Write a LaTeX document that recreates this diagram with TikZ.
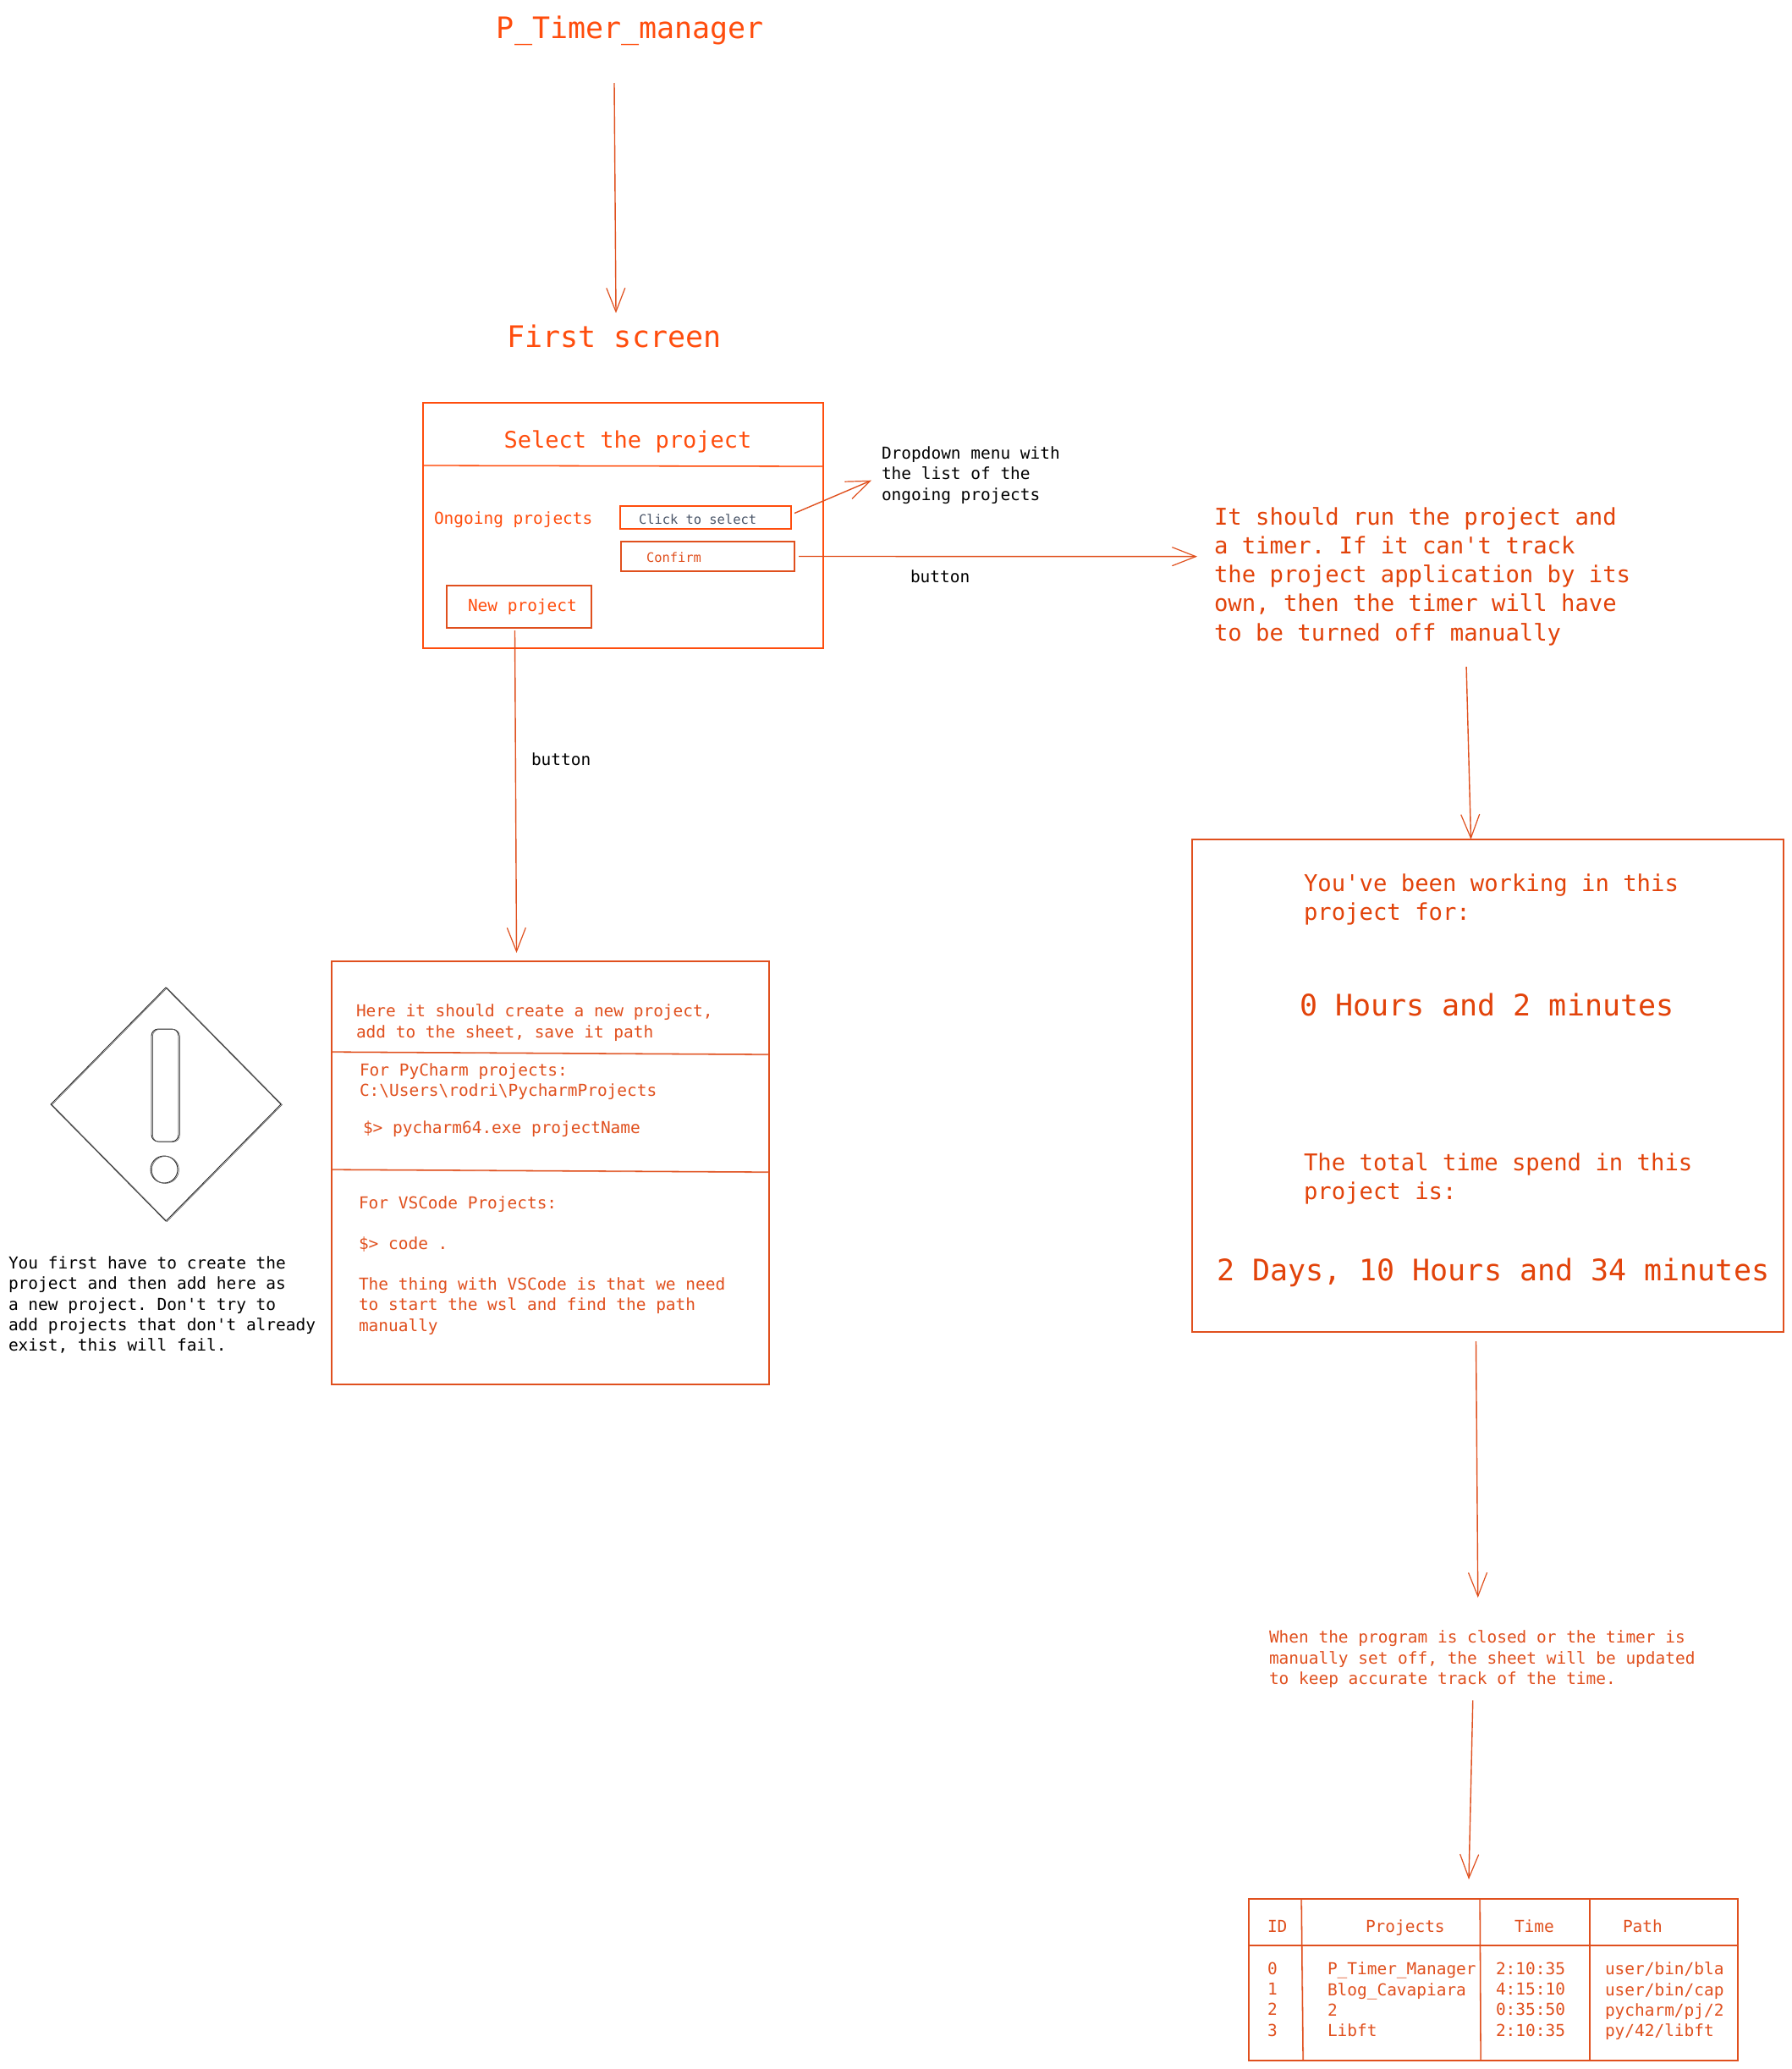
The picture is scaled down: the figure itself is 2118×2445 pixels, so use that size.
\documentclass[tikz,border=0pt]{standalone}
\usepackage{fontspec}
\setmonofont{DejaVu Sans Mono}
\usetikzlibrary{arrows.meta}
\definecolor{cA}{HTML}{FF4D0D}
\definecolor{cB}{HTML}{E0501E}
\definecolor{cC}{HTML}{E2430A}
\definecolor{cG}{HTML}{4A5568}
\tikzset{
  every node/.style={inner sep=0pt,outer sep=0pt,font=\ttfamily},
  skA/.style={draw=cA,line width=1.3pt,postaction={draw=cA,line width=.9pt,opacity=.55,transform canvas={xshift=.7pt,yshift=-.7pt}}},
  skB/.style={draw=cB,line width=1.3pt,postaction={draw=cB,line width=.9pt,opacity=.55,transform canvas={xshift=.7pt,yshift=-.7pt}}},
  skK/.style={draw=black!85,line width=.9pt,postaction={draw=black!60,line width=.7pt,transform canvas={xshift=1.4pt,yshift=-.4pt}}},
  arr/.style={draw=cB,line width=1.4pt,-{Straight Barb[length=28pt,width=22pt,line width=1.2pt]}},
  boxn/.style={rectangle,anchor=center},
  ts35/.style={font=\ttfamily\fontsize{35}{42}\selectfont},
  ts27/.style={font=\ttfamily\fontsize{27.25}{34.2}\selectfont,align=left,anchor=north west,yshift=-4.5pt},
  ts19/.style={font=\ttfamily\fontsize{19.45}{24.2}\selectfont,align=left,anchor=north west,yshift=-3pt},
  ts15/.style={font=\ttfamily\fontsize{15.4}{19}\selectfont},
}
\begin{document}
\begin{tikzpicture}[x=1pt,y=-1pt]
\useasboundingbox[fill=white] (0,0) rectangle (2118,2445);

% titles
\node[ts35,text=cA] (title) at (745,36) {P\_Timer\_manager};
\node[ts35,text=cA] (first) at (726,397) {First screen};

% first screen box
\node[boxn,skA,minimum width=473pt,minimum height=290pt] (box1) at (736.5,621) {};
\draw[skA] (500,550) -- (973,551);
\node[text=cA,font=\ttfamily\fontsize{27}{32}\selectfont] (sel) at (742,522) {Select the project};
\node[ts19,text=cA] (ongoing) at (513,602) {Ongoing projects};
\node[boxn,skA,minimum width=202pt,minimum height=27pt] (click) at (834,611.5) {};
\node[ts15,text=cG,anchor=west] (clicktx) at (755,614) {Click to select};
\node[boxn,skB,minimum width=205pt,minimum height=35pt] (confirm) at (836.5,657.5) {};
\node[ts15,text=cB,anchor=west] (conftx) at (764,659) {Confirm};
\node[boxn,skB,minimum width=171pt,minimum height=50pt] (newp) at (613.5,717) {};
\node[ts19,text=cA] (newtx) at (553,705) {New project};

% labels
\node[ts19] (dropdown) at (1042,525) {Dropdown menu with\\the list of the\\ongoing projects};
\node[ts19] (btn1) at (1076,671) {button};
\node[ts19] (btn2) at (628,887) {button};

% run text
\node[ts27,text=cC] (run) at (1435,595) {It should run the project and\\a timer. If it can't track\\the project application by its\\own, then the timer will have\\to be turned off manually};

% timer box
\node[boxn,skB,minimum width=699pt,minimum height=582pt] (box2) at (1758.5,1283) {};
\node[ts27,text=cC] (worked) at (1541,1028) {You've been working in this\\project for:};
\node[ts35,text=cC,anchor=west] (hours) at (1536,1187.5) {0 Hours and 2 minutes};
\node[ts27,text=cC] (total) at (1541,1358) {The total time spend in this\\project is:};
\node[ts35,text=cC,anchor=west] (days) at (1438,1504) {2 Days, 10 Hours and 34 minutes};

% closed note
\node[ts19,text=cB] (closed) at (1500,1924) {When the program is closed or the timer is\\manually set off, the sheet will be updated\\to keep accurate track of the time.};

% new project box
\node[boxn,skB,minimum width=517pt,minimum height=500pt] (box3) at (650.5,1386) {};
\draw[skB] (392,1243) -- (909,1246);
\draw[skB] (392,1382) -- (909,1385);
\node[ts19,text=cB] (here) at (421,1184) {Here it should create a new project,\\add to the sheet, save it path};
\node[ts19,text=cB] (pych) at (425,1254) {For PyCharm projects:\\C:\textbackslash Users\textbackslash rodri\textbackslash PycharmProjects};
\node[ts19,text=cB] (pycmd) at (429,1322) {\$> pycharm64.exe projectName};
\node[ts19,text=cB] (vsc) at (424,1411) {For VSCode Projects:};
\node[ts19,text=cB] (vscmd) at (424,1459) {\$> code .};
\node[ts19,text=cB] (vsnote) at (424,1507) {The thing with VSCode is that we need\\to start the wsl and find the path\\manually};

% warning
\draw[skK] (196,1167) -- (332,1305) -- (196,1443) -- (60,1305) -- cycle;
\draw[skK,rounded corners=8pt] (179,1216) rectangle (211,1349);
\draw[skK] (194,1382) circle[radius=16];
\node[ts19] (warn) at (10,1482) {You first have to create the\\project and then add here as\\a new project. Don't try to\\add projects that don't already\\exist, this will fail.};

% table
\node[boxn,skB,minimum width=578pt,minimum height=191pt] (tbl) at (1765,2339.5) {};
\draw[skB] (1476,2299) -- (2054,2299);
\draw[skB] (1538,2244) -- (1540,2435);
\draw[skB] (1749,2244) -- (1750,2435);
\draw[skB] (1879,2244) -- (1879,2435);
\node[ts19,text=cB] (hid) at (1498,2266) {ID};
\node[ts19,text=cB] (hpr) at (1614,2266) {Projects};
\node[ts19,text=cB] (hti) at (1790,2266) {Time};
\node[ts19,text=cB] (hpa) at (1918,2266) {Path};
\node[ts19,text=cB] (cid) at (1498,2316) {0\\1\\2\\3};
\node[ts19,text=cB] (cpr) at (1569,2316) {P\_Timer\_Manager\\Blog\_Cavapiara\\2\\Libft};
\node[ts19,text=cB] (cti) at (1768,2316) {2:10:35\\4:15:10\\0:35:50\\2:10:35};
\node[ts19,text=cB] (cpa) at (1897,2316) {user/bin/bla\\user/bin/cap\\pycharm/pj/2\\py/42/libft};

% connectors
\draw[arr] ([xshift=-19pt,yshift=-62pt]title.center) -- ([xshift=2pt,yshift=27pt]first.center);
\draw[arr] ([xshift=4pt,yshift=5pt]click.east) -- ([xshift=-12pt,yshift=-6pt]dropdown.west);
\draw[arr] ([xshift=5pt]confirm.east) -- ([xshift=-20pt,yshift=23.5pt]run.west);
\draw[arr] ([xshift=-5pt,yshift=-3pt]newp.south) -- ([xshift=-40pt,yshift=10pt]box3.north);
\draw[arr] ([xshift=52pt,yshift=-25pt]run.south) -- ([xshift=-20pt]box2.north);
\draw[arr] ([xshift=-14pt,yshift=-11pt]box2.south) -- ([xshift=-5pt,yshift=39pt]closed.north);
\draw[arr] ([xshift=-11pt,yshift=-15pt]closed.south) -- ([xshift=-29pt,yshift=23pt]tbl.north);
\end{tikzpicture}
\end{document}
